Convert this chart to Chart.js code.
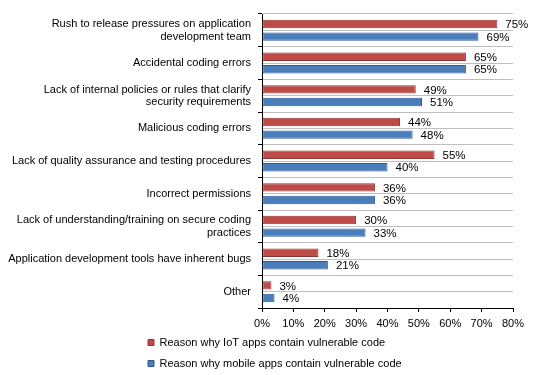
<!DOCTYPE html>
<html><head><meta charset="utf-8">
<script src="https://cdn.jsdelivr.net/npm/chart.js@4"></script>
<style>html,body{margin:0;padding:0;background:#fff}canvas{display:block}</style>
</head><body>
<canvas id="c" width="540" height="375"></canvas>
<script>
const categories = [
  ["Rush to release pressures on application", "development team"],
  "Accidental coding errors",
  ["Lack of internal policies or rules that clarify", "security requirements"],
  "Malicious coding errors",
  "Lack of quality assurance and testing procedures",
  "Incorrect permissions",
  ["Lack of understanding/training on secure coding", "practices"],
  "Application development tools have inherent bugs",
  "Other"
];
const iotValues = [75, 65, 49, 44, 55, 36, 30, 18, 3];
const mobileValues = [69, 65, 51, 48, 40, 36, 33, 21, 4];
const xTickLabels = ["0%", "10%", "20%", "30%", "40%", "50%", "60%", "70%", "80%"];
const seriesNames = [
  "Reason why IoT apps contain vulnerable code",
  "Reason why mobile apps contain vulnerable code"
];

const FONT = "'Liberation Sans', Arial, sans-serif";

const barLabels = {
  id: 'barLabels',
  afterDatasetsDraw(chart) {
    const ctx = chart.ctx;
    ctx.save();
    ctx.font = '11.5px ' + FONT;
    ctx.fillStyle = '#000';
    ctx.textAlign = 'left';
    ctx.textBaseline = 'middle';
    chart.data.datasets.forEach((ds, di) => {
      const meta = chart.getDatasetMeta(di);
      meta.data.forEach((bar, i) => {
        ctx.fillText(ds.data[i] + '%', bar.x + 8, bar.y + 1);
      });
    });
    ctx.restore();
  }
};

const legendPlace = {
  id: 'legendPlace',
  afterLayout(chart) {
    const lg = chart.legend;
    if (lg) { lg.left = 138; lg.top = 327; }
  }
};

new Chart(document.getElementById('c'), {
  type: 'bar',
  data: {
    labels: categories,
    datasets: [
      {
        label: seriesNames[0],
        data: iotValues,
        backgroundColor: '#BE4B48',
        borderColor: '#8E3634',
        borderWidth: 1,
        borderSkipped: false,
        categoryPercentage: 0.77,
        barPercentage: 0.67
      },
      {
        label: seriesNames[1],
        data: mobileValues,
        backgroundColor: '#4A7EBB',
        borderColor: '#2E5B91',
        borderWidth: 1,
        borderSkipped: false,
        categoryPercentage: 0.77,
        barPercentage: 0.67
      }
    ]
  },
  options: {
    indexAxis: 'y',
    responsive: false,
    animation: false,
    events: [],
    layout: { padding: { top: 14, left: 0, right: 0, bottom: 0 } },
    scales: {
      x: {
        type: 'linear',
        min: 0, max: 80,
        ticks: {
          stepSize: 10,
          padding: 5,
          maxRotation: 0,
          minRotation: 0,
          autoSkip: false,
          color: '#000',
          font: { family: FONT, size: 11 },
          callback: (v, i) => xTickLabels[i]
        },
        grid: { drawOnChartArea: false, drawTicks: true, tickLength: 4, tickColor: '#000' },
        border: { display: true, color: '#000', width: 1 },
        afterFit(s) {
          const lh = s.chart.legend ? s.chart.legend.height : 31;
          s.height = 375 - 308 - lh;
        }
      },
      y: {
        type: 'category',
        position: 'left',
        offset: true,
        ticks: {
          padding: 7,
          autoSkip: false,
          color: '#000',
          font: { family: FONT, size: 11, lineHeight: 1.12 }
        },
        grid: { offset: true, color: '#BFBFBF', lineWidth: 1, drawTicks: true, tickLength: 4, tickColor: '#000' },
        border: { display: true, color: '#000', width: 1 },
        afterFit(s) { s.width = 262; }
      },
      y2: {
        type: 'category',
        position: 'right',
        labels: categories,
        offset: true,
        ticks: { display: false },
        grid: { offset: false, color: '#BFBFBF', lineWidth: 1, drawTicks: false },
        border: { display: false },
        afterFit(s) { s.width = 27; }
      }
    },
    plugins: {
      legend: {
        display: true,
        position: 'bottom',
        align: 'start',
        labels: {
          boxWidth: 6,
          boxHeight: 6,
          padding: 10,
          color: '#000',
          font: { family: FONT, size: 11 }
        }
      },
      tooltip: { enabled: false }
    }
  },
  plugins: [barLabels, legendPlace]
});
</script>
</body></html>
